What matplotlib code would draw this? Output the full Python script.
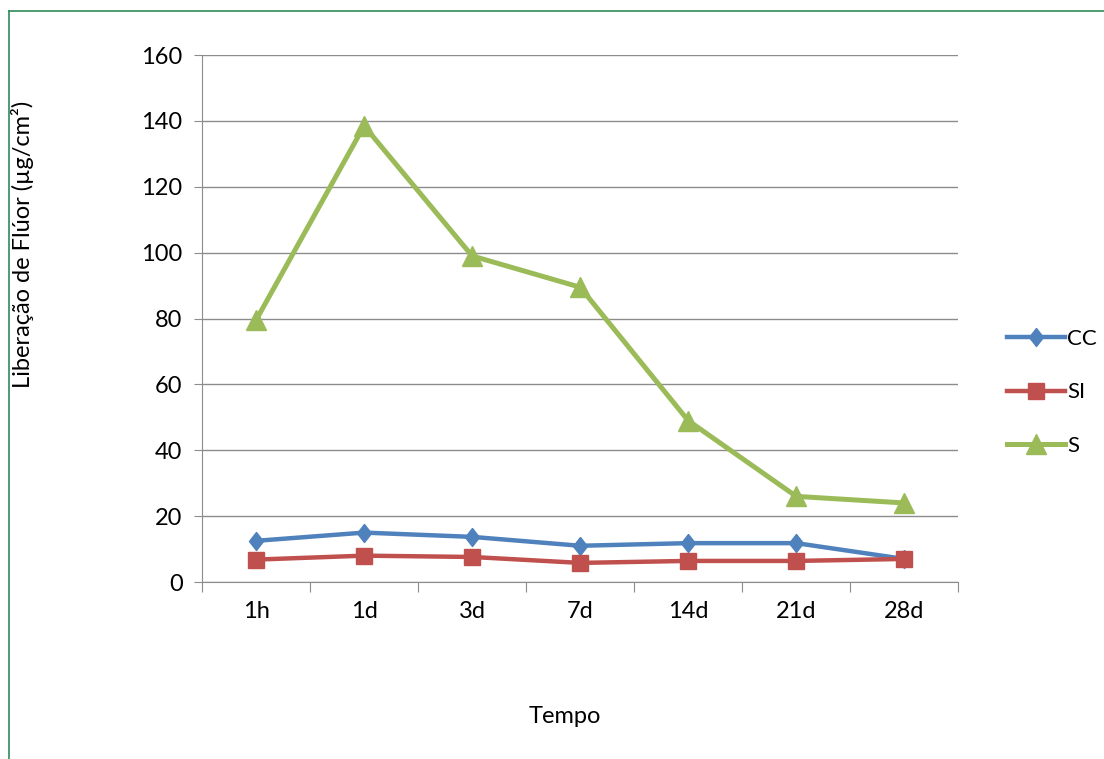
import numpy as np
import matplotlib.pyplot as plt
from matplotlib.lines import Line2D

plt.rcParams['font.family'] = ['Lato', 'DejaVu Sans']

tempos = ["1h", "1d", "3d", "7d", "14d", "21d", "28d"]
cc = [12.5, 15, 13.7, 11, 11.8, 11.8, 7]
si = [6.8, 8, 7.6, 5.8, 6.4, 6.4, 7]
s = [79.5, 138.5, 99, 89.5, 49, 26, 24]

# Excel style diamond, a bit taller than wide
diamond = [(0, 1), (0.78, 0), (0, -1), (-0.78, 0), (0, 1)]

fig = plt.figure(figsize=(11.04, 7.59), dpi=100)
ax = fig.add_axes([0.183, 0.2332, 0.685, 0.6943])

x = np.arange(len(tempos))
ax.plot(x, cc, color="#4F81BD", lw=3.2, marker=diamond, ms=13, label="CC", zorder=3)
ax.plot(x, si, color="#C0504D", lw=3.2, marker="s", ms=11, label="SI", zorder=3)
ax.plot(x, s, color="#9BBB59", lw=3.6, marker="^", ms=14, label="S", zorder=3)

ax.set_xlim(-0.5, len(tempos) - 0.5)
ax.set_ylim(0, 160)
ax.set_yticks(np.arange(0, 161, 20))
ax.yaxis.grid(True, color="#8c8c8c", lw=1)
ax.set_axisbelow(True)

ax.set_xticks(np.arange(-0.5, len(tempos)), [""] * (len(tempos) + 1))
ax.set_xticks(x, tempos, minor=True)
ax.tick_params(axis="x", which="major", length=7, color="#8c8c8c")
ax.tick_params(axis="x", which="minor", length=0, pad=14, labelsize=17)
ax.tick_params(axis="y", length=6, color="#8c8c8c", labelsize=17, pad=8)

for side in ["top", "right"]:
    ax.spines[side].set_visible(False)
for side in ["left", "bottom"]:
    ax.spines[side].set_color("#8c8c8c")

ax.set_xlabel("Tempo", fontsize=17)
ax.xaxis.set_label_coords(0.48, -0.235)
ax.set_ylabel("Liberação de Flúor (µg/cm²)", fontsize=17)
ax.yaxis.set_label_coords(-0.222, 0.64)

fig.legend(loc="center left", bbox_to_anchor=(0.912, 0.483), frameon=False,
           fontsize=16, handlelength=2.6, handletextpad=0.1, labelspacing=1.5,
           borderaxespad=0, borderpad=0)

# green outline around the chart area (left and top edges visible)
fig.add_artist(Line2D([9 / 1104, 9 / 1104], [0, 1 - 11 / 759], color="#2e8b57", lw=1.2))
fig.add_artist(Line2D([9 / 1104, 1], [1 - 11 / 759, 1 - 11 / 759], color="#2e8b57", lw=1.2))

fig.savefig("out.png", dpi=100)
